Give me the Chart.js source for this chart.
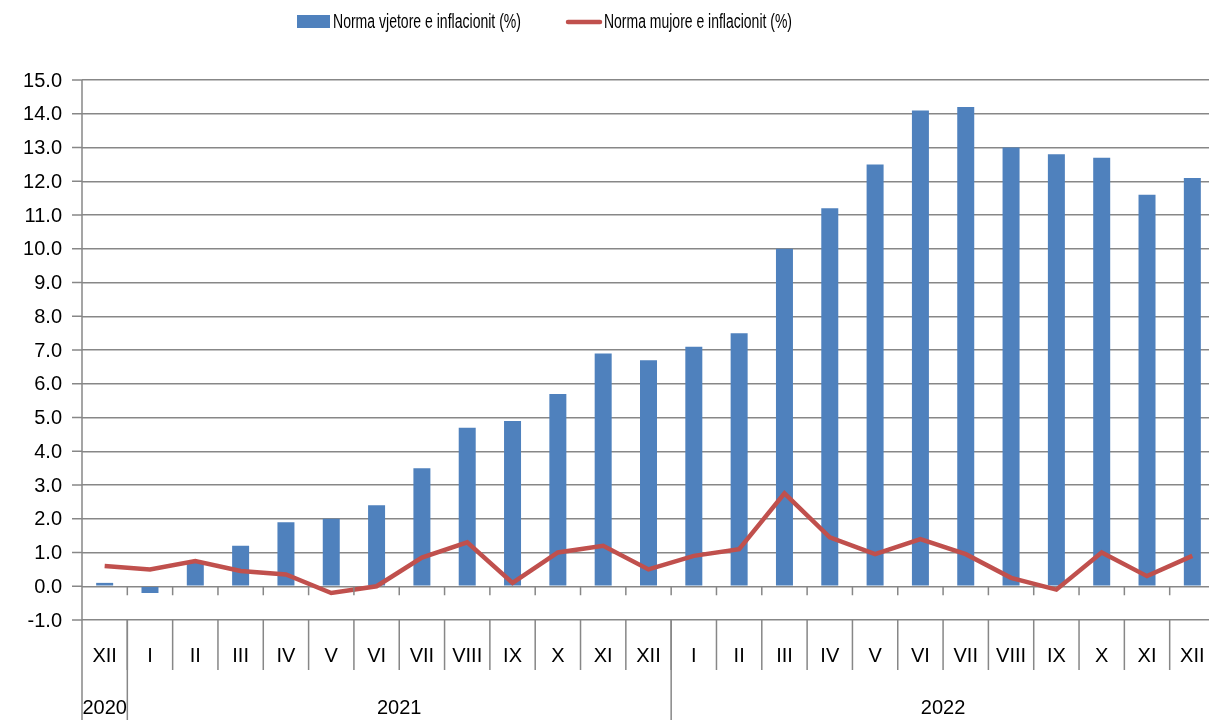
<!DOCTYPE html>
<html>
<head>
<meta charset="utf-8">
<script src="https://cdn.jsdelivr.net/npm/chart.js@4.4.0/dist/chart.umd.min.js"></script>
<style>
    html, body { margin: 0; padding: 0; background: #fff; overflow: hidden; }
    #wrap { width: 1216px; height: 720px; position: relative; }
</style>
</head>
<body>
<div id="wrap"><canvas id="chart"></canvas></div>
<script>
// Data
const months = ['XII', 'I', 'II', 'III', 'IV', 'V', 'VI', 'VII', 'VIII', 'IX', 'X', 'XI', 'XII',
                'I', 'II', 'III', 'IV', 'V', 'VI', 'VII', 'VIII', 'IX', 'X', 'XI', 'XII'];
const years = ['2020', '2021', '2022'];
const yearSpans = [1, 12, 12];
const annualRate = [0.1, -0.2, 0.7, 1.2, 1.9, 2.0, 2.4, 3.5, 4.7, 4.9, 5.7, 6.9, 6.7,
                    7.1, 7.5, 10.0, 11.2, 12.5, 14.1, 14.2, 13.0, 12.8, 12.7, 11.6, 12.1];
const monthlyRate = [0.6, 0.5, 0.75, 0.45, 0.35, -0.2, 0.0, 0.85, 1.3, 0.1, 1.0, 1.2, 0.5,
                     0.9, 1.1, 2.75, 1.45, 0.95, 1.4, 0.95, 0.25, -0.1, 1.0, 0.3, 0.9];
const yMin = -1, yMax = 15, yStep = 1;

const FONT = "'Liberation Sans', Arial, sans-serif";
const GRID = '#878787';

// draw text squeezed to a given width (reference font is narrow)
function fitText(ctx, text, x, y, width) {
    const w = ctx.measureText(text).width;
    ctx.save();
    ctx.translate(x, y);
    ctx.scale(Math.min(1, width / w), 1);
    ctx.fillText(text, 0, 0);
    ctx.restore();
}

// Excel-like axis labels, category cells and legend
const axisPlugin = {
    id: 'excelAxis',
    afterDraw(chart) {
        const { ctx, chartArea, scales: { x, y } } = chart;
        const left = chartArea.left;
        const bottom = chartArea.bottom;
        const y0 = y.getPixelForValue(0);
        const H = chart.height;
        ctx.save();
        ctx.strokeStyle = GRID;
        ctx.lineWidth = 1.5;

        // y axis line, runs down through the label rows
        ctx.beginPath();
        ctx.moveTo(left, chartArea.top);
        ctx.lineTo(left, H);
        ctx.stroke();

        // y ticks + labels
        ctx.fillStyle = '#000';
        ctx.font = '20px ' + FONT;
        ctx.textAlign = 'right';
        ctx.textBaseline = 'middle';
        y.ticks.forEach(t => {
            const py = y.getPixelForValue(t.value);
            ctx.beginPath();
            ctx.moveTo(left - 10, py);
            ctx.lineTo(left, py);
            ctx.stroke();
            ctx.fillText(t.value.toFixed(1), left - 20, py + 1);
        });

        // category boundaries
        const boundary = i => (x.getPixelForValue(i - 1) + x.getPixelForValue(i)) / 2;
        for (let i = 1; i < months.length; i++) {
            const bx = boundary(i);
            ctx.beginPath();
            ctx.moveTo(bx, y0);
            ctx.lineTo(bx, y0 + 9);
            ctx.moveTo(bx, bottom);
            ctx.lineTo(bx, bottom + 50);
            ctx.stroke();
        }

        // month labels
        ctx.textAlign = 'center';
        months.forEach((m, i) => {
            ctx.fillText(m, x.getPixelForValue(i), bottom + 36);
        });

        // year groups
        let start = 0;
        years.forEach((yr, k) => {
            const end = start + yearSpans[k];
            const x1 = start === 0 ? left : boundary(start);
            const x2 = end >= months.length ? chartArea.right : boundary(end);
            if (end < months.length) {
                ctx.beginPath();
                ctx.moveTo(x2, bottom);
                ctx.lineTo(x2, H);
                ctx.stroke();
            }
            const cx = yearSpans[k] === 1 ? x.getPixelForValue(start) : (x1 + x2) / 2;
            ctx.fillText(yr, cx, bottom + 88);
            start = end;
        });

        // legend
        const ds = chart.data.datasets;
        ctx.textAlign = 'left';
        ctx.fillStyle = ds[0].backgroundColor;
        ctx.fillRect(297, 15, 33, 13);
        ctx.fillStyle = '#000';
        fitText(ctx, ds[0].label, 333, 22, 188);
        ctx.strokeStyle = ds[1].borderColor;
        ctx.lineWidth = 4.5;
        ctx.lineCap = 'round';
        ctx.beginPath();
        ctx.moveTo(568, 22);
        ctx.lineTo(600, 22);
        ctx.stroke();
        fitText(ctx, ds[1].label, 604, 22, 188);
        ctx.restore();
    }
};

new Chart(document.getElementById('chart'), {
    type: 'bar',
    data: {
        labels: months,
        datasets: [
            {
                label: 'Norma vjetore e inflacionit (%)',
                data: annualRate,
                backgroundColor: '#4F81BD',
                categoryPercentage: 1,
                barPercentage: 0.375,
                order: 2
            },
            {
                type: 'line',
                label: 'Norma mujore e inflacionit (%)',
                data: monthlyRate,
                borderColor: '#C0504D',
                backgroundColor: '#C0504D',
                borderWidth: 4.5,
                pointRadius: 0,
                tension: 0,
                order: 1
            }
        ]
    },
    options: {
        responsive: true,
        maintainAspectRatio: false,
        animation: false,
        layout: { padding: { left: 82, top: 80, right: 1, bottom: 100 } },
        plugins: { legend: { display: false }, tooltip: { enabled: false } },
        scales: {
            x: { display: false, offset: true },
            y: {
                min: yMin,
                max: yMax,
                ticks: { display: false, stepSize: yStep },
                border: { display: false },
                grid: { color: GRID, lineWidth: 1.5, drawTicks: false }
            }
        }
    },
    plugins: [axisPlugin]
});
</script>
</body>
</html>
